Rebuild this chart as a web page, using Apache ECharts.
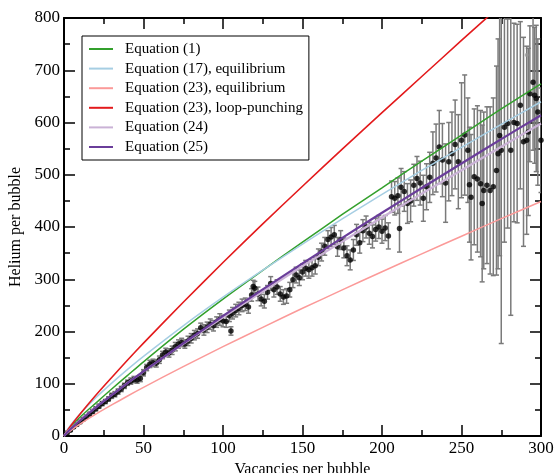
<!DOCTYPE html>
<html>
<head>
<meta charset="utf-8">
<script src="https://cdn.jsdelivr.net/npm/echarts@6/dist/echarts.min.js"></script>
<style>
html,body{margin:0;padding:0;background:#fff;}
#chart{width:554px;height:473px;}
</style>
</head>
<body>
<div id="chart"></div>
<script>
// ---- Data ----
const xTicks = [0, 50, 100, 150, 200, 250, 300];
const yTicks = [0, 100, 200, 300, 400, 500, 600, 700, 800];

// Simulation points: vacancies, helium, error half-width
const bubbleX = [2,4,6,8,10,12,14,16,18,20,22,24,26,28,30,32,34,36,38,40,42,44,46,48,50,52,54,56,58,60,62,64,66,68,70,72,74,76,78,80,82,84,86,88,90,92,94,96,98,100,102,104,105,106,108,110,112,114,116,118,119,120,122,124,126,128,130,132,134,136,138,140,142,144,146,148,150,152,154,156,158,160,162,164,166,168,170,172,174,176,178,180,182,184,186,188,190,192,194,196,198,200,202,204,206,208,210,211,212,214,216,218,220,222,224,226,228,230,232,234,236,238,240,242,244,246,248,250,252,254,255,256,258,260,262,263,264,266,268,270,272,273,274,275,277,279,281,283,285,287,289,291,292,293,295,296,297,298,300];
const bubbleHe = [6,11,17,22,27,32,37,42,47,52,57,62,66,71,77,80,85,90,96,102,105,108,107,110,121,131,138,140,139,146,155,161,159,164,171,176,179,176,182,187,193,196,207,203,208,214,211,218,223,220,219,230,201,235,240,244,250,252,247,270,286,283,272,262,258,275,292,280,285,272,266,268,280,299,308,303,314,321,318,322,326,342,352,363,376,381,385,362,375,360,345,337,356,385,370,393,400,388,382,395,400,392,398,383,458,455,460,397,476,468,445,450,480,493,484,455,477,495,522,532,553,528,484,525,540,558,525,566,576,547,481,457,496,492,483,445,470,480,470,477,508,540,575,547,591,598,547,600,598,633,563,566,582,655,677,652,646,620,566];
const bubbleErr = [2,2,2,3,3,3,3,3,4,4,4,4,4,4,5,5,5,5,5,5,6,6,6,6,6,6,7,7,7,7,7,7,8,8,8,8,8,8,9,9,9,9,9,10,10,10,10,10,11,11,11,11,8,11,12,12,12,12,12,12,12,13,13,13,13,13,13,14,14,14,14,14,14,15,15,15,15,15,16,16,16,16,17,17,17,18,18,18,18,19,19,19,20,20,20,21,21,21,22,22,22,23,24,25,30,32,34,45,36,38,38,40,40,42,42,44,44,48,60,65,70,70,75,75,80,85,90,110,115,100,110,120,130,140,140,150,150,150,160,170,200,220,230,370,220,200,316,190,190,160,200,180,160,130,130,130,140,140,100];

// Model curves
const curveX  = [0, 2, 5, 10, 20, 30, 40, 50, 75, 100, 125, 150, 175, 200, 225, 250, 275, 300];
const eq1     = [0, 9, 19.8, 36, 63, 90, 116, 142, 204, 262, 317, 371, 424, 475, 526, 576, 626, 674];
const eq17    = [0, 11.6, 24.2, 42.1, 73.3, 101.3, 127.6, 152.5, 210.9, 265.6, 317.3, 367.4, 415.5, 462.3, 508.2, 552.4, 596.4, 639.7];
const eq23eq  = [0, 5.5, 12.3, 22.7, 41.7, 59.4, 76.5, 93.1, 132.8, 171, 208, 244.4, 279.6, 314.4, 348.5, 382.4, 416, 448.8];
const eq23lp  = [0, 9.8, 22.4, 41.8, 78, 112, 145.5, 177.8, 256, 332, 406, 478, 549, 619, 688, 757, 825, 892];
const eq24    = [0, 7.3, 16.3, 30, 55.1, 78.8, 101.5, 123.6, 176.3, 227.3, 276.6, 325.1, 372.1, 418.2, 463.8, 508.6, 553.6, 598];
const eq25    = [0, 6.9, 15.7, 29.2, 54.4, 78.2, 101.3, 123.6, 177.5, 229.8, 280.5, 330.4, 379.3, 427.3, 474.6, 521.6, 568.2, 614];
const strayX = [291];
const strayHe = [729];

const seriesNames = ['Equation (1)', 'Equation (17), equilibrium', 'Equation (23), equilibrium', 'Equation (23), loop-punching', 'Equation (24)', 'Equation (25)'];
const seriesValues = [eq1, eq17, eq23eq, eq23lp, eq24, eq25];
const seriesColors = ['#33a02c', '#a6cee3', '#fb9a99', '#e31a1c', '#cab2d6', '#6a3d9a'];
const seriesWidths = [1.5, 1.5, 1.5, 1.6, 2.2, 2.2];

// ---- Build chart ----
const FONT = '"Liberation Serif", "Times New Roman", serif';
const pts = bubbleX.map((x, i) => [x, bubbleHe[i], bubbleErr[i]]);
const zip = (xs, ys) => xs.map((x, i) => [x, ys[i]]);

function errRender(params, api) {
  const x = api.value(0), y = api.value(1), e = api.value(2);
  const t = api.coord([x, y + e]);
  const b = api.coord([x, y - e]);
  const hw = 2.5;
  const st = { stroke: '#7a7a7a', lineWidth: 1.5 };
  return {
    type: 'group',
    children: [
      { type: 'line', shape: { x1: t[0], y1: t[1], x2: b[0], y2: b[1] }, style: st },
      { type: 'line', shape: { x1: t[0] - hw, y1: t[1], x2: t[0] + hw, y2: t[1] }, style: st },
      { type: 'line', shape: { x1: b[0] - hw, y1: b[1], x2: b[0] + hw, y2: b[1] }, style: st }
    ]
  };
}

const axisCommon = {
  axisLine: { show: true, onZero: false, lineStyle: { color: '#000', width: 2 } },
  axisTick: { show: true, inside: true, length: 11, lineStyle: { color: '#000', width: 1.5 } },
  minorTick: { show: true, splitNumber: 2, length: 6, lineStyle: { color: '#000', width: 1.5 } },
  splitLine: { show: false }
};

const option = {
  animation: false,
  backgroundColor: '#fff',
  grid: { left: 64, top: 18, width: 477, height: 418, containLabel: false, outerBoundsMode: 'none' },
  xAxis: [
    Object.assign({}, axisCommon, {
      type: 'value', min: xTicks[0], max: xTicks[xTicks.length - 1], interval: 50, position: 'bottom',
      name: 'Vacancies per bubble', nameLocation: 'middle', nameGap: 22,
      nameTextStyle: { fontFamily: FONT, fontSize: 16, color: '#000' },
      axisLabel: { fontFamily: FONT, fontSize: 17, color: '#000', margin: 4 }
    }),
    Object.assign({}, axisCommon, {
      type: 'value', min: xTicks[0], max: xTicks[xTicks.length - 1], interval: 50, position: 'top',
      axisLabel: { show: false }
    })
  ],
  yAxis: [
    Object.assign({}, axisCommon, {
      type: 'value', min: yTicks[0], max: yTicks[yTicks.length - 1], interval: 100, position: 'left',
      name: 'Helium per bubble', nameLocation: 'middle', nameGap: 33,
      nameTextStyle: { fontFamily: FONT, fontSize: 16, color: '#000' },
      axisLabel: { fontFamily: FONT, fontSize: 17, color: '#000', margin: 4 }
    }),
    Object.assign({}, axisCommon, {
      type: 'value', min: yTicks[0], max: yTicks[yTicks.length - 1], interval: 100, position: 'right',
      axisLabel: { show: false }
    })
  ],
  legend: {
    data: seriesNames.map(n => ({ name: n, icon: 'rect' })),
    orient: 'vertical',
    left: 82, top: 36,
    padding: [5.5, 6, 5.5, 7],
    itemWidth: 24, itemHeight: 2, itemGap: 4.6,
    borderColor: '#000', borderWidth: 1, borderRadius: 0,
    backgroundColor: '#fff',
    textStyle: { fontFamily: FONT, fontSize: 15, color: '#000', lineHeight: 15, padding: [0, 0, 0, 7] },
    selectedMode: false
  },
  series: [
    {
      type: 'custom', name: 'err', renderItem: errRender, data: pts,
      encode: { x: 0, y: 1 }, clip: true, z: 1, silent: true
    },
    {
      type: 'scatter', name: 'pts', data: pts.map(p => [p[0], p[1]]),
      symbol: 'circle', symbolSize: 5.5, itemStyle: { color: '#000' }, z: 2, silent: true
    },
    {
      type: 'scatter', name: 'stray', data: zip(strayX, strayHe),
      symbol: 'circle', symbolSize: 4, itemStyle: { color: '#9a9a9a' }, z: 2, silent: true
    }
  ].concat(seriesNames.map((n, i) => ({
    type: 'line', name: n, data: zip(curveX, seriesValues[i]),
    symbol: 'none', smooth: 0.2, clip: true, z: 3 + (i === 5 ? 1 : 0),
    lineStyle: { color: seriesColors[i], width: seriesWidths[i] },
    itemStyle: { color: seriesColors[i] },
    silent: true
  })))
};

const chart = echarts.init(document.getElementById('chart'), null, { renderer: 'canvas' });
chart.setOption(option);
</script>
</body>
</html>
